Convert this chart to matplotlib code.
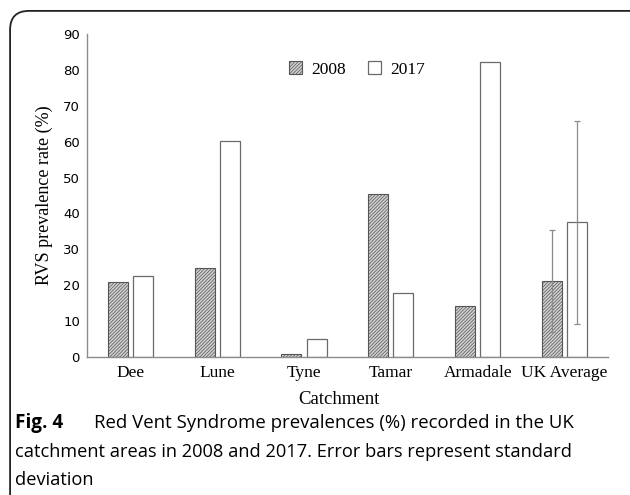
import numpy as np
import matplotlib
matplotlib.use("Agg")
import matplotlib.pyplot as plt
from matplotlib.patches import FancyBboxPatch

catchments = ["Dee", "Lune", "Tyne", "Tamar", "Armadale", "UK Average"]
prev_2008 = [21.0, 24.8, 0.8, 45.5, 14.3, 21.2]
prev_2017 = [22.5, 60.2, 5.0, 17.8, 82.3, 37.5]
sd_2008 = [0, 0, 0, 0, 0, 14.3]
sd_2017 = [0, 0, 0, 0, 0, 28.3]
years = ["2008", "2017"]
yticks = [0, 10, 20, 30, 40, 50, 60, 70, 80, 90]

plt.rcParams['hatch.linewidth'] = 0.5
serif = "Liberation Serif"
cap_font = "Open Sans"

fig = plt.figure(figsize=(6.3, 4.95), dpi=100)

# rounded frame round the figure
box = FancyBboxPatch((0.016, -0.05), 1.1, 1.028, boxstyle="round,pad=0,rounding_size=0.03",
                     transform=fig.transFigure, fill=False, edgecolor="#222222",
                     linewidth=1.3, mutation_aspect=630/495)
fig.patches.append(box)

ax = fig.add_axes([0.138, 0.279, 0.827, 0.652])
x = np.arange(len(catchments))
w = 0.23
off = 0.145

# only draw error bars where there is a value
err08 = [s if s > 0 else np.nan for s in sd_2008]
err17 = [s if s > 0 else np.nan for s in sd_2017]

b1 = ax.bar(x - off, prev_2008, w, facecolor="#d0d0d0", edgecolor="#555555",
            hatch="//////////", linewidth=0.8, label=years[0])
b2 = ax.bar(x + off, prev_2017, w, facecolor="white", edgecolor="#6a6a6a",
            linewidth=0.9, label=years[1])
ax.errorbar(x - off, prev_2008, yerr=err08, fmt="none", ecolor="#8a8a8a",
            elinewidth=0.9, capsize=2, capthick=0.9)
ax.errorbar(x + off, prev_2017, yerr=err17, fmt="none", ecolor="#8a8a8a",
            elinewidth=0.9, capsize=2, capthick=0.9)

ax.set_xlim(-0.5, len(catchments) - 0.5)
ax.set_ylim(0, 90)
ax.set_yticks(yticks)
ax.set_xticks(x)
ax.set_xticklabels(catchments, family=serif, fontsize=12.5)
ax.tick_params(axis="y", length=0, labelsize=9.5, pad=5)
ax.tick_params(axis="x", length=0, pad=6)
for s in ["top", "right"]:
    ax.spines[s].set_visible(False)
for s in ["left", "bottom"]:
    ax.spines[s].set_color("#8c8c8c")
    ax.spines[s].set_linewidth(1.0)

ax.set_ylabel("RVS prevalence rate (%)", family=serif, fontsize=13, labelpad=7)
ax.set_xlabel("Catchment", family=serif, fontsize=13.5, labelpad=6)
ax.xaxis.set_label_coords(0.483, -0.105)

leg = ax.legend(ncol=2, loc="center", bbox_to_anchor=(0.518, 0.89), frameon=False,
                prop={"family": serif, "size": 12.5}, handlelength=0.75, handleheight=0.75,
                handletextpad=0.55, columnspacing=1.25)

# caption
fig.text(0.024, 0.1455, "Fig. 4", family=cap_font, fontweight="bold", fontsize=13.6, va="center")
fig.text(0.149, 0.1455, "Red Vent Syndrome prevalences (%) recorded in the UK",
         family=cap_font, fontsize=13.4, va="center")
fig.text(0.024, 0.0869, "catchment areas in 2008 and 2017. Error bars represent standard",
         family=cap_font, fontsize=13.15, va="center")
fig.text(0.024, 0.0303, "deviation", family=cap_font, fontsize=13.15, va="center")

fig.savefig("out.png", dpi=100)
